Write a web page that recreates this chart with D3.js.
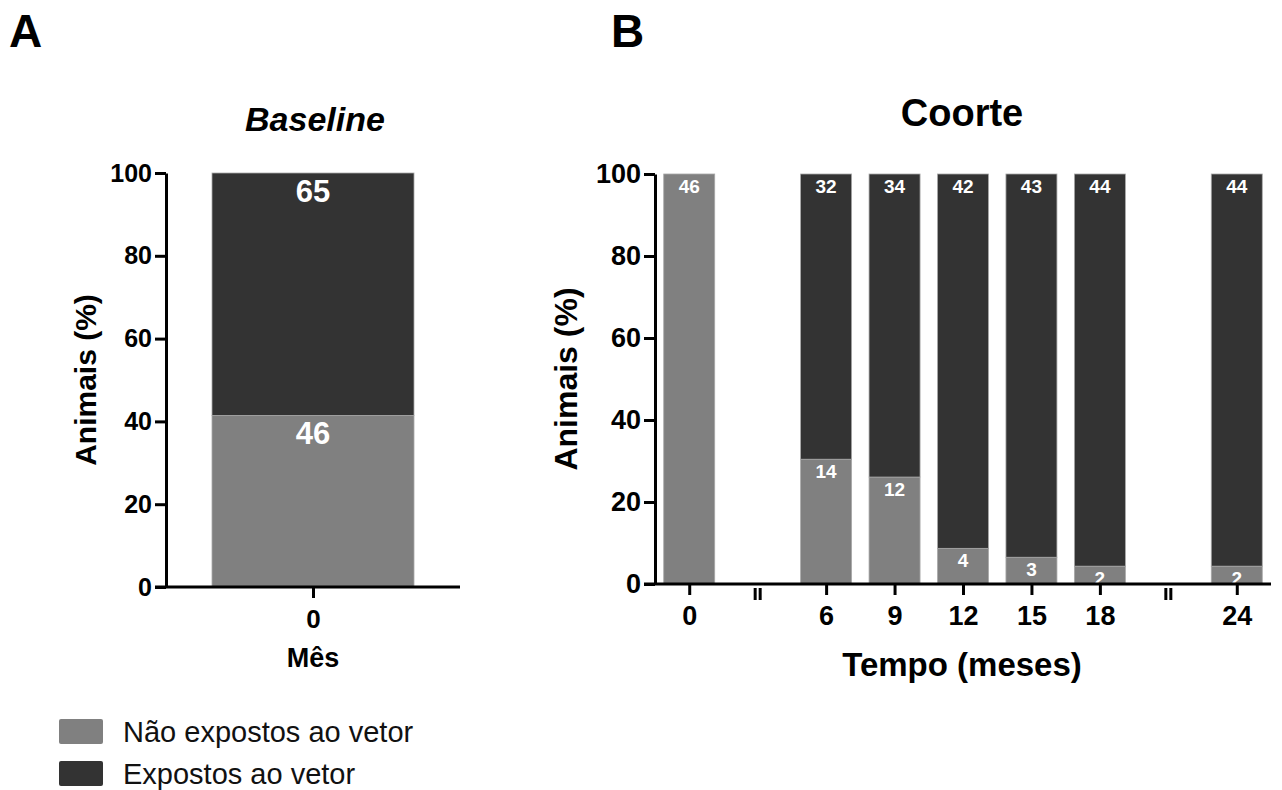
<!DOCTYPE html>
<html>
<head>
<meta charset="utf-8">
<script src="https://cdn.jsdelivr.net/npm/d3@7/dist/d3.min.js"></script>
<style>
  body { margin: 0; background: #fff; }
  svg { display: block; font-family: "Liberation Sans", Arial, Helvetica, sans-serif; }
  .axis path, .axis line { stroke: #000; stroke-width: 3; }
  .axis text { font-weight: bold; fill: #000; }
</style>
</head>
<body>
<div id="chart"></div>
<script>
// ---- data ----
var baselineCats = ["0"];
var baselineNaoExp = [46];
var baselineExp = [65];

var coorteMonths = ["0", "6", "9", "12", "15", "18", "24"];
var coorteSlots = ["0", "brk1", "6", "9", "12", "15", "18", "brk2", "24"];
var coorteNaoExp = [46, 14, 12, 4, 3, 2, 2];
var coorteExp = [0, 32, 34, 42, 43, 44, 44];

var yTicks = [0, 20, 40, 60, 80, 100];
var seriesNames = ["Não expostos ao vetor", "Expostos ao vetor"];
var seriesColours = ["#808080", "#333333"];

var W = 1282, H = 790;
var svg = d3.select("#chart").append("svg")
    .attr("width", W).attr("height", H);

// build stacked percent rows
function stackRows(cats, nao, exp) {
    return cats.map(function(c, i) {
        var tot = nao[i] + exp[i];
        return { cat: c, nao: nao[i], exp: exp[i],
                 pNao: 100 * nao[i] / tot, pExp: 100 * exp[i] / tot };
    });
}

function drawPanel(opt) {
    var g = svg.append("g");
    var y = d3.scaleLinear().domain([0, 100]).range([opt.y0, opt.y1]);
    var rows = stackRows(opt.cats, opt.nao, opt.exp);

    // bars
    var bw = opt.bw;
    var gs = g.selectAll("g.bar").data(rows).enter().append("g").attr("class", "bar");
    gs.append("rect")
        .attr("x", function(d) { return opt.x(d.cat) - bw / 2; })
        .attr("y", function(d) { return y(d.pNao); })
        .attr("width", bw)
        .attr("height", function(d) { return y(0) - y(d.pNao); })
        .attr("fill", seriesColours[0])
        .attr("stroke", "#a8a8a8").attr("stroke-width", 0.8);
    gs.filter(function(d) { return d.exp > 0; }).append("rect")
        .attr("x", function(d) { return opt.x(d.cat) - bw / 2; })
        .attr("y", function(d) { return y(100); })
        .attr("width", bw)
        .attr("height", function(d) { return y(d.pNao) - y(100); })
        .attr("fill", seriesColours[1])
        .attr("stroke", "#a8a8a8").attr("stroke-width", 0.8);

    // value labels
    gs.append("text")
        .attr("x", function(d) { return opt.x(d.cat); })
        .attr("y", function(d) { return y(d.pNao) + opt.labOff; })
        .attr("text-anchor", "middle")
        .attr("fill", "#fff").attr("font-weight", "bold")
        .attr("font-size", opt.labSize)
        .text(function(d) { return d.nao; });
    gs.filter(function(d) { return d.exp > 0; }).append("text")
        .attr("x", function(d) { return opt.x(d.cat); })
        .attr("y", y(100) + opt.labOff)
        .attr("text-anchor", "middle")
        .attr("fill", "#fff").attr("font-weight", "bold")
        .attr("font-size", opt.labSize)
        .text(function(d) { return d.exp; });

    // x axis line + ticks
    var xa = g.append("g").attr("class", "axis")
        .attr("transform", "translate(0," + y(0) + ")")
        .call(d3.axisBottom(opt.x).tickValues(opt.cats).tickSize(11).tickSizeOuter(0).tickPadding(opt.xPad));
    xa.select(".domain").remove();
    xa.append("line")
        .attr("x1", opt.xLeft - 11).attr("x2", opt.xRight)
        .attr("y1", 0).attr("y2", 0);
    xa.selectAll("text").attr("font-size", opt.xTickSize).attr("font-family", "inherit");

    // y axis
    var ya = g.append("g").attr("class", "axis")
        .attr("transform", "translate(" + opt.xLeft + ",0)")
        .call(d3.axisLeft(y).tickValues(yTicks).tickSize(11).tickSizeOuter(0).tickPadding(3));
    ya.selectAll("text").attr("font-size", opt.yTickSize).attr("font-family", "inherit");

    // y label
    g.append("text")
        .attr("transform", "translate(" + opt.yLabX + "," + ((opt.y0 + opt.y1) / 2) + ") rotate(-90)")
        .attr("text-anchor", "middle")
        .attr("font-weight", "bold").attr("font-size", opt.yLabSize)
        .text("Animais (%)");
    return { g: g, y: y, xa: xa };
}

// ---- Panel A ----
var pa = drawPanel({
    cats: baselineCats, nao: baselineNaoExp, exp: baselineExp,
    x: d3.scalePoint().domain(baselineCats).range([166, 460]).padding(0.5),
    bw: 202, y0: 587, y1: 173, xLeft: 166, xRight: 460,
    labOff: 29, labSize: 31, xTickSize: 26, yTickSize: 25, xPad: 12,
    yLabX: 96, yLabSize: 30
});
svg.append("text").attr("x", 313).attr("y", 667)
    .attr("text-anchor", "middle").attr("font-weight", "bold").attr("font-size", 27)
    .text("Mês");
svg.append("text").attr("x", 315).attr("y", 131)
    .attr("text-anchor", "middle").attr("font-weight", "bold").attr("font-style", "italic")
    .attr("font-size", 34).text("Baseline");
svg.append("text").attr("x", 9).attr("y", 47)
    .attr("font-weight", "bold").attr("font-size", 46).text("A");

// ---- Panel B ----
var xB = d3.scalePoint().domain(coorteSlots).range([655, 1271]).padding(0.5);
var pb = drawPanel({
    cats: coorteMonths, nao: coorteNaoExp, exp: coorteExp,
    x: xB, bw: 51, y0: 584, y1: 174, xLeft: 655, xRight: 1271,
    labOff: 19, labSize: 19, xTickSize: 27, yTickSize: 27, xPad: 11,
    yLabX: 577, yLabSize: 32
});
// axis break marks
["brk1", "brk2"].forEach(function(b) {
    [-2.5, 2.5].forEach(function(dx) {
        pb.xa.append("line")
            .attr("x1", xB(b) + dx).attr("x2", xB(b) + dx)
            .attr("y1", 4).attr("y2", 16)
            .attr("stroke-width", 3);
    });
});
svg.append("text").attr("x", 962).attr("y", 676)
    .attr("text-anchor", "middle").attr("font-weight", "bold").attr("font-size", 33)
    .text("Tempo (meses)");
svg.append("text").attr("x", 962).attr("y", 126)
    .attr("text-anchor", "middle").attr("font-weight", "bold")
    .attr("font-size", 38).text("Coorte");
svg.append("text").attr("x", 611).attr("y", 47)
    .attr("font-weight", "bold").attr("font-size", 46).text("B");

// ---- legend ----
var leg = svg.append("g").selectAll("g").data(seriesNames).enter().append("g")
    .attr("transform", function(d, i) { return "translate(59," + (719 + i * 42) + ")"; });
leg.append("rect").attr("width", 44).attr("height", 25).attr("rx", 2)
    .attr("fill", function(d, i) { return seriesColours[i]; });
leg.append("text").attr("x", 64).attr("y", 23)
    .attr("font-size", 29).attr("fill", "#111")
    .text(function(d) { return d; });
</script>
</body>
</html>
